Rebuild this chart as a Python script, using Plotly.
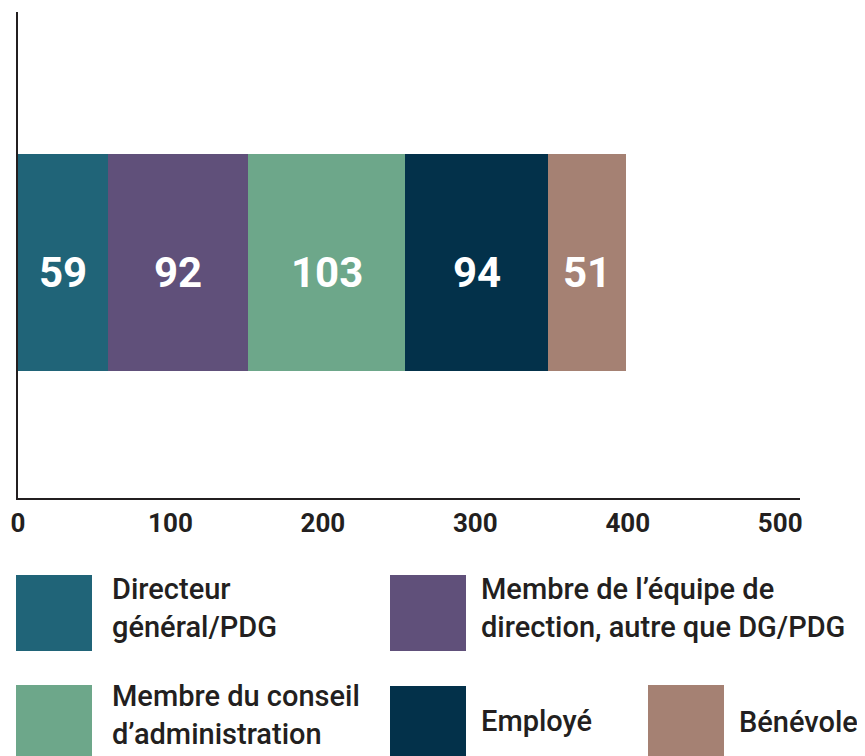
import plotly.graph_objects as go
from itertools import accumulate

categories = ["Directeur général/PDG",
              "Membre de l’équipe de direction, autre que DG/PDG",
              "Membre du conseil d’administration",
              "Employé",
              "Bénévole"]
legend_labels = ["Directeur<br>général/PDG",
                 "Membre de l’équipe de<br>direction, autre que DG/PDG",
                 "Membre du conseil<br>d’administration",
                 "Employé",
                 "Bénévole"]
values = [59, 92, 103, 94, 51]
colors = ["#206478", "#60507A", "#6DA78A", "#03314A", "#A58173"]
tick_values = [0, 100, 200, 300, 400, 500]
tick_labels = ["0", "100", "200", "300", "400", "500"]

OFF = 8  # page body margin
W, H = 865 - OFF, 756 - OFF
L, T = 18 - OFF, 12 - OFF
R = W - (800 - OFF)
B = H - (498 - OFF)
PW, PH = W - L - R, H - T - B

def px_x(x):
    return (x - OFF - L) / PW

def px_y(y):
    return (H - B - (y - OFF)) / PH

fig = go.Figure()
for cat, v, c in zip(categories, values, colors):
    fig.add_trace(go.Bar(
        x=[v], y=[0], orientation="h", name=cat,
        marker=dict(color=c, line=dict(width=0)),
        width=0.4465, showlegend=False, hoverinfo="x+name",
    ))

# value labels centred on each segment
ends = list(accumulate(values))
for v, e in zip(values, ends):
    fig.add_annotation(x=e - v / 2, y=0, xref="x", yref="y", text=str(v),
                       showarrow=False, yshift=-10,
                       font=dict(family="Roboto", size=42, color="white", weight="bold"))

# custom legend (large swatches)
legend_pos = [  # (square left px, square top px, text left px, text center y px)
    (16, 575, 110, 608),
    (390, 575, 479, 608),
    (16, 685, 110, 715),
    (390, 686, 479, 721),
    (648, 685, 737, 722),
]
for (sx, sy, tx, ty), c, lab in zip(legend_pos, colors, legend_labels):
    fig.add_shape(type="rect", xref="paper", yref="paper",
                  x0=px_x(sx), x1=px_x(sx + 76), y0=px_y(sy), y1=px_y(sy + 76),
                  fillcolor=c, line=dict(width=0), layer="above")
    fig.add_annotation(xref="paper", yref="paper", x=px_x(tx), y=px_y(ty),
                       xanchor="left", yanchor="middle", align="left",
                       text=lab, showarrow=False,
                       font=dict(family="Roboto", size=29, color="#231F20", weight=500))

fig.update_layout(
    width=W, height=H, barmode="stack", bargap=0,
    margin=dict(l=L, r=R, t=T, b=B, autoexpand=False),
    plot_bgcolor="white", paper_bgcolor="white",
    xaxis=dict(range=[0, 513], tickvals=tick_values, ticktext=tick_labels,
               showgrid=False, zeroline=False, showline=True, linecolor="#231F20",
               linewidth=2, ticks="", ticklabelstandoff=1,
               tickfont=dict(family="Roboto", size=26, color="#231F20", weight="bold")),
    yaxis=dict(range=[-0.4846, 0.5154], showticklabels=False, showgrid=False,
               zeroline=False, showline=True, linecolor="#231F20", linewidth=2, ticks=""),
    font=dict(family="Roboto"),
)
fig.write_html("out.html")
